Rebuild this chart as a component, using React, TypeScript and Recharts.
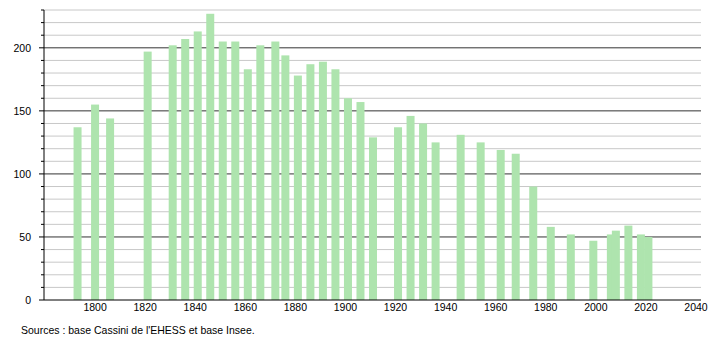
import React from 'react';
import { BarChart, Bar, XAxis, YAxis, CartesianGrid } from 'recharts';

// census years and population of the commune
const years = [
  1793, 1800, 1806, 1821, 1831, 1836, 1841, 1846, 1851, 1856, 1861, 1866, 1872,
  1876, 1881, 1886, 1891, 1896, 1901, 1906, 1911, 1921, 1926, 1931, 1936, 1946,
  1954, 1962, 1968, 1975, 1982, 1990, 1999, 2006, 2008, 2013, 2018, 2021,
];
const population = [
  137, 155, 144, 197, 202, 207, 213, 227, 205, 205, 183, 202, 205,
  194, 178, 187, 189, 183, 160, 157, 129, 137, 146, 140, 125, 131,
  125, 119, 116, 90, 58, 52, 47, 52, 55, 59, 52, 50,
];

const xTicks = [1800, 1820, 1840, 1860, 1880, 1900, 1920, 1940, 1960, 1980, 2000, 2020, 2040];
const yTicks = [0, 10, 20, 30, 40, 50, 60, 70, 80, 90, 100, 110, 120, 130, 140, 150, 160, 170, 180, 190, 200, 210, 220, 230];
const yLabels = [0, 50, 100, 150, 200];
const minorGrid = [10, 20, 30, 40, 60, 70, 80, 90, 110, 120, 130, 140, 160, 170, 180, 190, 210, 220, 230];
const majorGrid = [50, 100, 150, 200];

const data = years.map((year, i) => ({ year, population: population[i] }));

const FONT = '"Liberation Sans", Arial, sans-serif';
const BAR_W = 8;

// recharts shrinks bars when census years are close together, so draw a fixed width around the bar centre
const CenteredBar = (props: any) => {
  const { x, y, width, height, fill } = props;
  const cx = x + width / 2;
  return <rect x={cx - BAR_W / 2} y={y} width={BAR_W} height={height} fill={fill} />;
};

const YTick = (props: any) => {
  const { x, y, payload } = props;
  const major = yLabels.includes(payload.value);
  return (
    <g>
      <line x1={x - (major ? 5 : 3)} x2={x} y1={y} y2={y} stroke="#000" strokeWidth={1} />
      {major && (
        <text x={x - 13} y={y} dy="0.35em" textAnchor="end" fontSize={10.5} fontFamily={FONT} fill="#000">
          {payload.value}
        </text>
      )}
    </g>
  );
};

const App = () => {
  return (
    <div style={{ position: 'absolute', left: 0, top: 0, width: 710, height: 340, background: '#fff' }}>
      <BarChart width={710} height={340} data={data} margin={{ top: 10, right: 9, bottom: 20, left: 0 }}>
        <CartesianGrid horizontalValues={minorGrid} vertical={false} stroke="#c8c8c8" />
        <CartesianGrid horizontalValues={majorGrid} vertical={false} stroke="#333" />
        <XAxis
          dataKey="year"
          type="number"
          domain={[1779.6, 2042]}
          ticks={xTicks}
          interval={0}
          tickLine={false}
          tickSize={0}
          tickMargin={4}
          height={20}
          axisLine={{ stroke: '#000' }}
          tick={{ fontSize: 10.5, fontFamily: FONT, fill: '#000' }}
        />
        <YAxis
          type="number"
          domain={[0, 230]}
          ticks={yTicks}
          interval={0}
          width={44}
          tickLine={false}
          tickSize={0}
          tickMargin={0}
          axisLine={{ stroke: '#000' }}
          tick={<YTick />}
        />
        <Bar dataKey="population" fill="#aee4ae" shape={<CenteredBar />} isAnimationActive={false} />
      </BarChart>
      <div
        style={{
          position: 'absolute',
          left: 21,
          top: 324,
          fontSize: 10.5,
          fontFamily: FONT,
          color: '#000',
          whiteSpace: 'nowrap',
        }}
      >
        Sources : base Cassini de l'EHESS et base Insee.
      </div>
    </div>
  );
};

export default App;
